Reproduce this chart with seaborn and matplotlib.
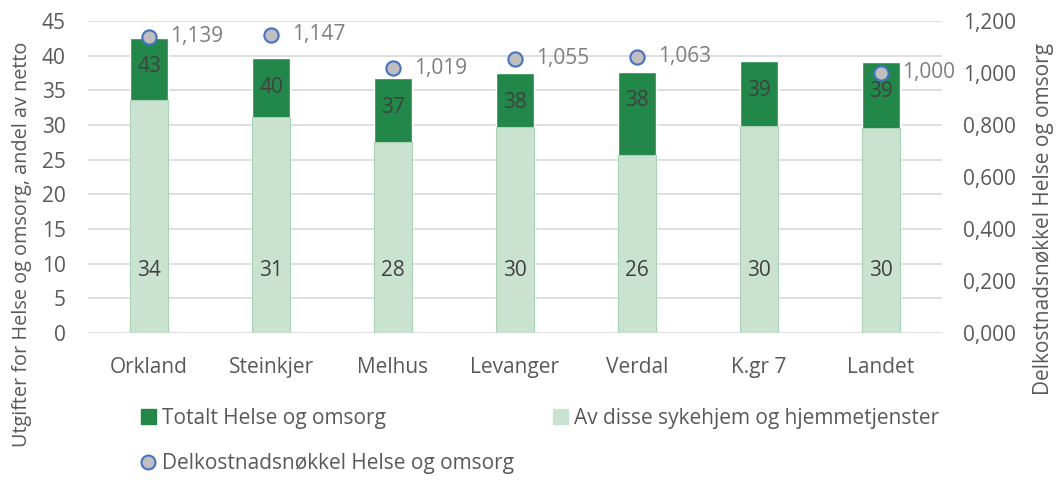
import seaborn as sns
import matplotlib.pyplot as plt
import matplotlib.ticker as mticker
from matplotlib.patches import Patch
from matplotlib.lines import Line2D
import numpy as np
import pandas as pd

categories = ['Orkland', 'Steinkjer', 'Melhus', 'Levanger', 'Verdal', 'K.gr 7', 'Landet']
totalt = [42.6, 39.6, 36.8, 37.5, 37.7, 39.2, 39.1]
sykehjem = [33.6, 31.2, 27.6, 29.7, 25.7, 29.8, 29.6]
nokkel = [1.139, 1.147, 1.019, 1.055, 1.063, np.nan, 1.000]

lbl_total = 'Totalt Helse og omsorg'
lbl_syk = 'Av disse sykehjem og hjemmetjenster'
lbl_key = 'Delkostnadsnøkkel Helse og omsorg'
lbl_left = 'Utgifter for Helse og omsorg, andel av netto'

sns.set_style('white')
plt.rcParams['font.family'] = ['Open Sans', 'DejaVu Sans']
txt = '#595959'
dark = '#22884A'
light = '#CAE3D1'
W, H = 1056, 484

df = pd.DataFrame({'kommune': categories, 'totalt': totalt, 'sykehjem': sykehjem, 'nokkel': nokkel})

fig = plt.figure(figsize=(W / 100, H / 100), dpi=100)
ax = fig.add_axes([88 / W, 1 - 333 / H, (942 - 88) / W, (333 - 21) / H])

sns.barplot(data=df, x='kommune', y='totalt', color=dark, width=0.31, ax=ax, saturation=1)
sns.barplot(data=df, x='kommune', y='sykehjem', color=light, width=0.31, ax=ax, saturation=1,
            edgecolor='#A8D2B4', linewidth=0.8)

ax.set_ylim(0, 45)
ax.set_yticks(range(0, 50, 5))
ax.yaxis.grid(True, color='#D9D9D9', linewidth=1.2)
ax.set_axisbelow(True)
for s in ax.spines.values():
    s.set_visible(False)
ax.set_xlabel('')
ax.set_ylabel('')
ax.tick_params(axis='both', length=0, labelsize=15, labelcolor=txt)
ax.tick_params(axis='x', pad=17)
ax.tick_params(axis='y', pad=16)
ax.set_xlim(-0.5, len(categories) - 0.5)

# verdietiketter
for i, (t, s) in enumerate(zip(totalt, sykehjem)):
    ax.annotate(f'{t:.0f}', (i, t), xytext=(0, -21), textcoords='offset points',
                ha='center', va='center', fontsize=15, color='#404040')
    ax.annotate(f'{s:.0f}', (i, 0), xytext=(0, 45), textcoords='offset points',
                ha='center', va='center', fontsize=15, color='#404040')

ax2 = ax.twinx()
sns.scatterplot(x=np.arange(len(categories)), y=df['nokkel'], ax=ax2, s=105,
                color='#BFBFBF', edgecolor='#4472C4', linewidth=1.5, zorder=5)
ax2.set_ylim(0, 1.2)
ax2.set_yticks(np.arange(0, 1.21, 0.2))
ax2.yaxis.set_major_formatter(mticker.FuncFormatter(lambda v, p: f'{v:.3f}'.replace('.', ',')))
for s in ax2.spines.values():
    s.set_visible(False)
ax2.set_ylabel('')
ax2.tick_params(axis='y', length=0, labelsize=15, labelcolor=txt, pad=15)
for i, v in enumerate(nokkel):
    if not np.isnan(v):
        ax2.annotate(f'{v:.3f}'.replace('.', ','), (i, v), xytext=(15, 0), textcoords='offset points',
                     ha='left', va='center', fontsize=15, color='#7F7F7F')

fig.text(1044 / W, 1 - 219 / H, lbl_key, rotation=90, ha='center', va='center',
         fontsize=15, color=txt)
fig.text(22 / W, 1 - 244 / H, lbl_left, rotation=90, ha='center', va='center',
         fontsize=14.3, color=txt)

handles = [Patch(color=dark), Line2D([], [], marker='o', ls='none', markersize=10,
                                     markerfacecolor='#BFBFBF', markeredgecolor='#4472C4', markeredgewidth=1.5),
           Patch(color=light)]
fig.legend(handles, [lbl_total, lbl_key, lbl_syk], ncol=2, loc='upper left',
           bbox_to_anchor=(141 / W, 1 - 408 / H), frameon=False, fontsize=15, labelcolor=txt,
           handlelength=0.7, handleheight=0.7, handletextpad=0.3, columnspacing=1.9,
           labelspacing=1.15, borderpad=0, borderaxespad=0)
fig.savefig('out.png', dpi=100)
